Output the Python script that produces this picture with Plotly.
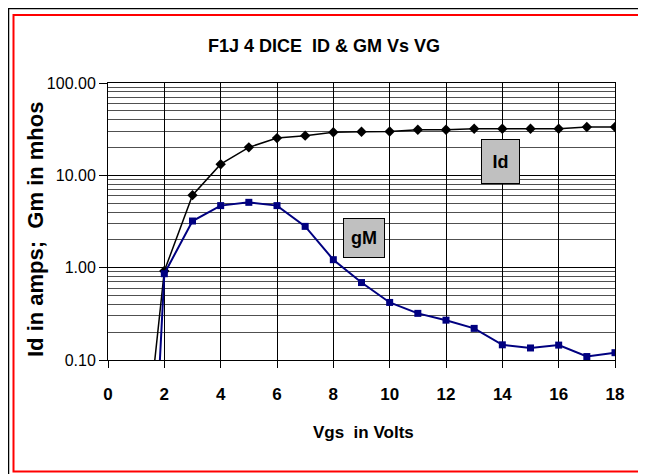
import plotly.graph_objects as go

# Data
vgs = [1, 2, 3, 4, 5, 6, 7, 8, 9, 10, 11, 12, 13, 14, 15, 16, 17, 18]
id_amps = [0.0013, 0.92, 6.1, 13.2, 20.1, 25.3, 26.9, 29.3, 29.6, 29.8,
           31.2, 31.2, 32.0, 32.0, 32.0, 32.0, 33.4, 33.4]
gm_mhos = [0.000001, 0.86, 3.2, 4.7, 5.1, 4.7, 2.8, 1.22, 0.69, 0.42,
           0.32, 0.27, 0.22, 0.146, 0.135, 0.145, 0.109, 0.12]

x_ticks = [0, 2, 4, 6, 8, 10, 12, 14, 16, 18]
y_major = [0.1, 1, 10, 100]
y_minor = [m * d for d in (0.1, 1, 10) for m in range(2, 10)]

title_text = "F1J 4 DICE\u00a0 ID &amp; GM Vs VG"
x_title = "Vgs\u00a0 in Volts"
y_title = "Id in amps;\u00a0 Gm in mhos"

# The page places the figure 8px in from the top-left corner, so the
# figure is laid out in coordinates shifted by that offset.
OFF = 8
W, H = 646 - OFF, 474 - OFF
L, R, T, B = 108 - OFF, 615 - OFF, 83 - OFF, 360 - OFF

FONT = "Liberation Sans, Arial, sans-serif"

fig = go.Figure()
fig.add_trace(go.Scatter(
    x=vgs, y=id_amps, mode="lines+markers", name="Id",
    line=dict(color="black", width=1.5),
    marker=dict(symbol="diamond", size=8, color="black"),
    cliponaxis=True,
))
fig.add_trace(go.Scatter(
    x=vgs, y=gm_mhos, mode="lines+markers", name="gM",
    line=dict(color="#000080", width=2),
    marker=dict(symbol="square", size=7, color="#000080"),
    cliponaxis=True,
))

def px_x(px):
    """page pixel -> paper x"""
    return (px - OFF - L) / (R - L)

def px_y(py):
    """page pixel -> paper y"""
    return (B - (py - OFF)) / (B - T)

shapes = [
    # outer black frame
    dict(type="rect", xref="paper", yref="paper",
         x0=px_x(8.5), x1=px_x(680), y0=px_y(500), y1=px_y(8.5),
         line=dict(color="black", width=1.5), fillcolor="rgba(0,0,0,0)", layer="below"),
    # red chart-area frame
    dict(type="rect", xref="paper", yref="paper",
         x0=px_x(13.5), x1=px_x(680), y0=px_y(471.5), y1=px_y(15),
         line=dict(color="red", width=2), fillcolor="rgba(0,0,0,0)", layer="below"),
]

annotations = [
    dict(text="<b>" + title_text + "</b>", xref="paper", yref="paper",
         x=px_x(324), y=px_y(46), showarrow=False,
         xanchor="center", yanchor="middle",
         font=dict(family=FONT, size=18, color="black")),
    dict(text="<b>" + x_title + "</b>", xref="paper", yref="paper",
         x=px_x(363), y=px_y(432), showarrow=False,
         xanchor="center", yanchor="middle",
         font=dict(family=FONT, size=17, color="black")),
    dict(text="<b>" + y_title + "</b>", xref="paper", yref="paper",
         x=px_x(35), y=px_y(230), showarrow=False, textangle=-90,
         xanchor="center", yanchor="middle",
         font=dict(family=FONT, size=22, color="black")),
    dict(text="<b>Id</b>", x=13.92, y=1.155, xref="x", yref="y", showarrow=False,
         bgcolor="#c0c0c0", bordercolor="black", borderwidth=1, borderpad=0,
         width=37, height=43, font=dict(family=FONT, size=18, color="black")),
    dict(text="<b>gM</b>", x=9.09, y=0.321, xref="x", yref="y", showarrow=False,
         bgcolor="#c0c0c0", bordercolor="black", borderwidth=1, borderpad=0,
         width=40, height=38, font=dict(family=FONT, size=18, color="black")),
]

fig.update_layout(
    width=W, height=H,
    margin=dict(l=L, r=W - R, t=T, b=H - B, pad=0, autoexpand=False),
    paper_bgcolor="white", plot_bgcolor="white",
    showlegend=False,
    shapes=shapes,
    annotations=annotations,
    font=dict(family=FONT, color="black"),
)

fig.update_xaxes(
    range=[0, 18], tickvals=x_ticks, ticktext=[str(v) for v in x_ticks],
    showgrid=True, gridcolor="black", gridwidth=1,
    showline=True, linecolor="black", linewidth=1, mirror=True,
    ticks="outside", ticklen=7, tickcolor="black",
    tickfont=dict(family=FONT, size=17, color="black", weight="bold"),
    ticklabelstandoff=12,
    zeroline=False, automargin=False,
)

fig.update_yaxes(
    type="log", range=[-1, 2], tickvals=y_major, tickformat=".2f",
    showgrid=True, gridcolor="black", gridwidth=1,
    showline=True, linecolor="black", linewidth=1, mirror=True,
    ticks="outside", ticklen=8, tickcolor="black",
    tickfont=dict(family=FONT, size=16, color="black"),
    minor=dict(tickvals=y_minor, showgrid=True, gridcolor="#505050",
               gridwidth=1, ticks=""),
    zeroline=False, automargin=False,
)

fig.write_html("out.html")
